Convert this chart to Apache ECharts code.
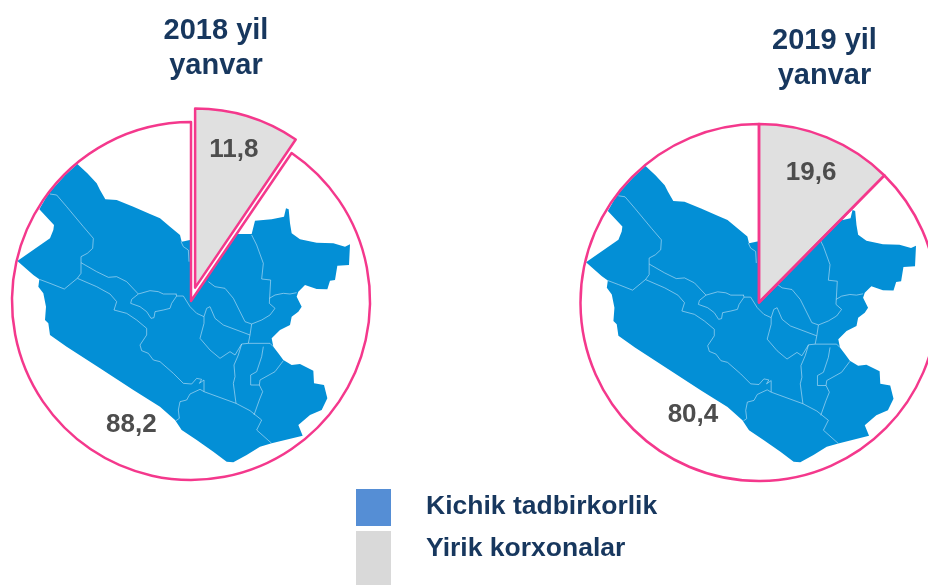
<!DOCTYPE html>
<html>
<head>
<meta charset="utf-8">
<style>html,body{margin:0;padding:0;background:#fff}#c{width:928px;height:585px}</style>
<script src="https://cdn.jsdelivr.net/npm/echarts@6/dist/echarts.min.js"></script>
</head>
<body>
<div id="c"></div>
<script>
// Printed figures
const periods = ['2018 yil\nyanvar', '2019 yil\nyanvar'];
const seriesNames = ['Yirik korxonalar', 'Kichik tadbirkorlik'];
const largeEnterprises = [11.8, 19.6];
const smallBusiness = [88.2, 80.4];
// The reference's wedges are not drawn to scale with the printed figures;
// these are the wedge sizes as measured in the picture (% of the circle).
const drawnLarge = [9.5, 12.4];
const drawnSmall = [90.5, 87.6];

// Decorative district map behind the pies (traced outline, not data)
const mapOutline = [[232,222],[262,250],[290,280],[300,300],[316,328],[350,330],[400,350],[450,372],[480,385],[510,410],[540,435],[545,455],[570,450],[712,432],[755,432],[765,392],[815,388],[852,380],[858,355],[866,358],[870,400],[875,430],[900,448],[950,458],[1000,460],[1035,470],[1050,463],[1047,525],[1012,527],[1005,570],[990,572],[982,598],[950,597],[915,585],[895,605],[890,620],[905,650],[895,665],[875,680],[870,705],[840,720],[815,745],[820,770],[835,790],[850,810],[875,825],[900,822],[940,842],[942,880],[972,885],[982,925],[965,960],[930,975],[895,1005],[908,1037],[815,1060],[780,1070],[740,1095],[700,1117],[680,1115],[640,1085],[590,1050],[545,1020],[525,990],[480,950],[400,900],[300,835],[200,770],[150,735],[145,700],[135,690],[138,650],[130,610],[115,590],[118,568],[100,555],[52,513],[150,445],[160,420],[162,405],[118,358],[137,325],[155,300],[195,256]];
const mapBorders = [
 [[150,312],[170,315],[200,350],[250,410],[280,445],[278,475],[262,490],[243,500],[243,550],[232,565],[193,597],[150,580],[118,568]],
 [[243,518],[290,545],[325,562],[350,560],[380,575],[415,612],[450,602],[475,605],[490,612],[530,612]],
 [[415,612],[395,628],[392,640],[420,650],[440,665],[453,685],[462,683],[465,665],[490,660],[510,655],[515,640],[530,618],[528,612]],
 [[232,565],[290,590],[330,612],[350,635],[342,660],[380,670],[410,690],[440,715],[440,735],[420,765],[425,782],[445,790],[460,810],[480,815],[520,850],[550,880],[575,882],[590,865],[605,868],[598,880],[612,870],[612,905]],
 [[530,618],[550,618],[570,650],[590,670],[612,680]],
 [[612,680],[620,655],[630,650],[645,685],[670,705],[750,735],[745,760],[725,762],[705,795],[690,785],[660,805],[630,780],[600,745],[612,700],[612,680]],
 [[625,575],[645,590],[675,595],[700,625],[735,695],[755,702],[750,735]],
 [[755,435],[770,465],[790,520],[785,567],[812,570],[808,640],[825,655],[810,675],[785,690],[755,702]],
 [[808,625],[825,615],[850,610],[870,612],[890,608]],
 [[745,760],[810,760],[820,770]],
 [[725,762],[715,795],[702,825],[705,860],[700,880],[708,940]],
 [[790,770],[785,800],[770,845],[752,855],[752,885],[778,885],[788,905],[778,930],[762,975]],
 [[850,812],[825,845],[780,870],[778,885]],
 [[612,905],[708,940],[750,962],[785,990],[770,1020],[815,1060]],
 [[612,905],[600,898],[570,912],[560,930],[540,935],[535,960],[538,985],[528,992]],
 [[543,455],[550,470],[565,480],[567,515]]
];

const PINK = '#f4388c', GRAY = '#e0e0e0', MAP = '#038fd6', NAVY = '#17375e';
const layouts = [
  {center:[191,301], radius:179, offset:14, title:[211,8],
   labels:[[11.5,-49],[-32.5,35.5]], map:{x:0,y:90,scaleX:1/3,scaleY:1/3}},
  {center:[759,302.5], radius:178.5, offset:0, title:[819.5,18],
   labels:[[17,-44],[-31,27]], map:{x:568.8,y:92.5,scaleX:0.992/3,scaleY:0.9933/3}}
];
const fmt = v => String(v).replace('.', ',');

const series = [], titles = [], graphics = [];
layouts.forEach((L, i) => {
  graphics.push({type:'group', x:L.map.x, y:L.map.y, scaleX:L.map.scaleX, scaleY:L.map.scaleY, silent:true,
    children:[
      {type:'polygon', z:1, shape:{points:mapOutline}, style:{fill:MAP}},
      ...mapBorders.map(p => ({type:'polyline', z:1, shape:{points:p},
        style:{fill:null, stroke:'rgba(190,225,245,0.72)', lineWidth:2.6}}))
    ]});
  // white mask: the map is not shown inside the large-enterprise wedge
  series.push({type:'pie', name:'mask'+i, center:L.center, radius:L.radius, startAngle:90, clockwise:true,
    z:3, silent:true, animation:false, label:{show:false}, labelLine:{show:false},
    data:[{name:'m1',value:drawnLarge[i],itemStyle:{color:'#fff'}},
          {name:'m2',value:drawnSmall[i],itemStyle:{color:'rgba(0,0,0,0)'}}]});
  const grayLabel = {formatter:fmt(largeEnterprises[i]), offset:L.labels[0]};
  series.push({type:'pie', name:'pie'+i, center:L.center, radius:L.radius, startAngle:90, clockwise:true,
    z:4, silent:true, animation:false, selectedMode:'single', selectedOffset:L.offset, avoidLabelOverlap:false,
    labelLine:{show:false},
    itemStyle:{borderColor:PINK, borderWidth:2.5},
    label:{show:true, position:'inside', color:'#4d4d4d', fontFamily:'Liberation Sans', fontWeight:'bold', fontSize:26},
    data:[
      {name:seriesNames[0], value:drawnLarge[i], selected:L.offset>0, itemStyle:{color:GRAY},
       label:grayLabel, select:{label:grayLabel}},
      {name:seriesNames[1], value:drawnSmall[i], itemStyle:{color:'rgba(0,0,0,0)'},
       label:{formatter:fmt(smallBusiness[i]), offset:L.labels[1]}}
    ]});
  titles.push({text:periods[i], left:L.title[0], top:L.title[1], textAlign:'center',
    textStyle:{color:NAVY, fontFamily:'Liberation Sans', fontWeight:'bold', fontSize:29, lineHeight:35}});
});

const legendText = {color:NAVY, fontFamily:'Liberation Sans', fontWeight:'bold', fontSize:26.5, lineHeight:30};
const legendBase = {orient:'vertical', selectedMode:false, icon:'rect', itemWidth:35,
  formatter:n => '{a|' + n + '}\n{b|}'};
const legends = [
  Object.assign({}, legendBase, {left:356, top:489, padding:0, itemHeight:37,
    textStyle:{padding:[0,0,0,30], rich:{a:legendText, b:{lineHeight:1}}},
    data:[{name:seriesNames[1], itemStyle:{color:'#558ed5', borderWidth:0}}]}),
  Object.assign({}, legendBase, {left:356, top:531, padding:0, itemHeight:54,
    textStyle:{padding:[0,0,0,30], rich:{a:legendText, b:{lineHeight:18}}},
    data:[{name:seriesNames[0], itemStyle:{color:'#d9d9d9', borderWidth:0}}]})
];

const chart = echarts.init(document.getElementById('c'), null, {renderer:'canvas'});
chart.setOption({
  backgroundColor:'#fff', animation:false,
  title:titles, legend:legends, series:series, graphic:{elements:graphics}
});
</script>
</body>
</html>
